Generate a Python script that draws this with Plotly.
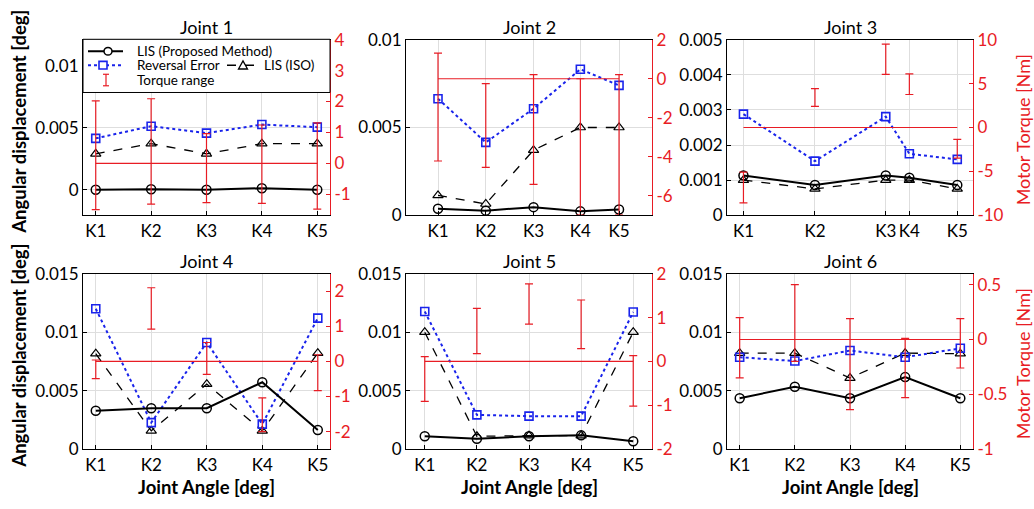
import plotly.graph_objects as go
import numpy as np

W, H = 1034, 509
FONT = "Lato"
RED = "rgb(232,28,36)"
BLUE = "rgb(25,35,235)"
GRID = "#dedede"

JOINTS = ["Joint 1", "Joint 2", "Joint 3", "Joint 4", "Joint 5", "Joint 6"]
K_LABELS = ["K1", "K2", "K3", "K4", "K5"]

# joint-angle axis positions of K1..K5 for each joint
ANGLE_POS = [
    [1, 2, 3, 4, 5],
    [1, 2, 3, 3.98, 4.79],
    [1, 2, 2.99, 3.32, 3.99],
    [1, 2, 3, 4, 5],
    [1, 2, 3, 4, 5],
    [1, 2, 3, 4, 5],
]

LIS_PROPOSED = [
    [0.0, 0.00005, 0.0, 0.00013, 0.0],
    [0.00037, 0.00026, 0.00046, 0.00022, 0.00033],
    [0.00113, 0.00086, 0.00113, 0.00107, 0.00086],
    [0.00329, 0.0035, 0.0035, 0.00572, 0.00164],
    [0.0011, 0.00088, 0.0011, 0.00118, 0.00068],
    [0.00435, 0.00534, 0.00435, 0.00616, 0.00435],
]
REVERSAL_ERROR = [
    [0.00415, 0.00513, 0.00457, 0.00526, 0.00505],
    [0.00664, 0.00415, 0.00607, 0.00832, 0.0074],
    [0.00288, 0.00154, 0.00281, 0.00175, 0.00159],
    [0.012, 0.00227, 0.00912, 0.00214, 0.0112],
    [0.01177, 0.00293, 0.00282, 0.00282, 0.01172],
    [0.00786, 0.00753, 0.00843, 0.00786, 0.00862],
]
LIS_ISO = [
    [0.0029, 0.00372, 0.0029, 0.00372, 0.00372],
    [0.00113, 0.00064, 0.00371, 0.005, 0.005],
    [0.001, 0.00075, 0.001, 0.001, 0.00075],
    [0.00816, 0.00156, 0.00556, 0.00156, 0.00821],
    [0.01, 0.0011, 0.00115, 0.00115, 0.01],
    [0.00821, 0.00821, 0.00608, 0.00821, 0.00816],
]
TORQUE_MEAN = [
    [0, 0, 0, 0, 0],
    [0, 0, 0, 0, 0],
    [0, 0, 0, 0, 0],
    [0, 0, 0, 0, 0],
    [0, 0, 0, 0, 0],
    [0, 0, 0, 0, 0],
]
TORQUE_LOW = [
    [-1.5, -1.32, -1.27, -1.3, -1.48],
    [-4.22, -4.55, -5.42, -7.0, -7.0],
    [-8.6, 2.4, 6.06, 3.76, -3.5],
    [-0.49, 0.92, -0.37, -2.0, -0.83],
    [-0.91, 0.18, 0.85, 0.29, -1.02],
    [-0.35, -0.2, -0.64, -0.53, -0.26],
]
TORQUE_HIGH = [
    [2.02, 2.09, 0.96, 1.24, 1.31],
    [1.31, -0.25, 0.21, 0.0, 0.21],
    [-5.1, 4.44, 9.5, 6.1, -1.36],
    [0.04, 2.1, 0.54, -1.04, 0.19],
    [0.11, 1.21, 1.77, 1.4, 0.13],
    [0.2, 0.5, 0.19, 0.01, 0.19],
]

X_RANGE = [[0.77, 5.23], [0.33, 5.48], [0.77, 4.21], [0.77, 5.22], [0.64, 5.36], [0.77, 5.23]]
LEFT_RANGE = [[-0.00205, 0.0121], [0, 0.01], [0, 0.005], [0, 0.015], [0, 0.015], [0, 0.015]]
LEFT_TICKS = [
    [0, 0.005, 0.01],
    [0, 0.005, 0.01],
    [0, 0.001, 0.002, 0.003, 0.004, 0.005],
    [0, 0.005, 0.01, 0.015],
    [0, 0.005, 0.01, 0.015],
    [0, 0.005, 0.01, 0.015],
]
RIGHT_RANGE = [[-1.68, 4], [-7, 2], [-10, 10], [-2.5, 2.5], [-2, 2], [-1, 0.6]]
RIGHT_TICKS = [
    [-1, 0, 1, 2, 3, 4],
    [-6, -4, -2, 0, 2],
    [-10, -5, 0, 5, 10],
    [-2, -1, 0, 1, 2],
    [-2, -1, 0, 1, 2],
    [-1, -0.5, 0, 0.5],
]

# layout (pixels)
COLS = [(83, 330), (406, 652), (727, 973)]
ROWS = [(30, 213), (274, 457)]
TICK_SIZE = 17


def px(x):
    return x / W


def py(y):
    return 1 - y / H


def fmt(v):
    return "%g" % v


fig = go.Figure()
layout = dict(
    width=W, height=H, autosize=False,
    margin=dict(l=0, r=0, t=0, b=0, pad=0),
    paper_bgcolor="white", plot_bgcolor="white",
    showlegend=False,
    font=dict(family=FONT, size=16, color="black"),
)
annotations = []
shapes = []

for i in range(6):
    r, c = divmod(i, 3)
    x0, x1 = COLS[c]
    y0, y1 = ROWS[r]
    xa, ya, yb = f"x{i+1}", f"y{i+1}", f"y{i+7}"
    xk = "xaxis" if i == 0 else f"xaxis{i+1}"
    yk = "yaxis" if i == 0 else f"yaxis{i+1}"
    ykr = f"yaxis{i+7}"
    layout[xk] = dict(
        domain=[px(x0), px(x1)], anchor=ya, range=X_RANGE[i],
        tickvals=ANGLE_POS[i], ticktext=K_LABELS,
        showline=True, mirror=True, linecolor="black", linewidth=1,
        ticks="inside", ticklen=4, tickcolor="black",
        showgrid=True, gridcolor=GRID, gridwidth=1, zeroline=False,
        tickfont=dict(size=TICK_SIZE, family=FONT, color="black"),
    )
    layout[yk] = dict(
        domain=[py(y1), py(y0)], anchor=xa, range=LEFT_RANGE[i],
        tickvals=LEFT_TICKS[i], ticktext=[fmt(v) for v in LEFT_TICKS[i]],
        showline=True, linecolor="black", linewidth=1,
        ticks="inside", ticklen=4, tickcolor="black",
        showgrid=True, gridcolor=GRID, gridwidth=1, zeroline=False,
        tickfont=dict(size=TICK_SIZE, family=FONT, color="black"),
    )
    layout[ykr] = dict(
        overlaying=ya, side="right", anchor=xa, range=RIGHT_RANGE[i],
        tickvals=RIGHT_TICKS[i], ticktext=[fmt(v) for v in RIGHT_TICKS[i]],
        showline=True, linecolor=RED, linewidth=1,
        ticks="inside", ticklen=4, tickcolor=RED,
        showgrid=False, zeroline=False,
        tickfont=dict(size=TICK_SIZE, family=FONT, color=RED),
    )

    xs = ANGLE_POS[i]
    fig.add_trace(go.Scatter(
        x=xs, y=LIS_ISO[i], xaxis=xa, yaxis=ya, mode="lines+markers",
        line=dict(color="black", width=1.3, dash="dash"),
        marker=dict(symbol="triangle-up-open", size=9, color="black", line=dict(width=1.2)),
    ))
    fig.add_trace(go.Scatter(
        x=xs, y=REVERSAL_ERROR[i], xaxis=xa, yaxis=ya, mode="lines+markers",
        line=dict(color=BLUE, width=2, dash="dot"),
        marker=dict(symbol="square-open", size=8, color=BLUE, line=dict(width=1.6)),
    ))
    fig.add_trace(go.Scatter(
        x=xs, y=LIS_PROPOSED[i], xaxis=xa, yaxis=ya, mode="lines+markers",
        line=dict(color="black", width=2),
        marker=dict(symbol="circle-open", size=9, color="black", line=dict(width=1.5)),
    ))
    # torque range (right axis)
    lo = np.array(TORQUE_LOW[i], dtype=float)
    hi = np.array(TORQUE_HIGH[i], dtype=float)
    fig.add_trace(go.Scatter(
        x=xs, y=TORQUE_MEAN[i], xaxis=xa, yaxis=yb, mode="lines",
        line=dict(color=RED, width=1.2),
    ))
    fig.add_trace(go.Scatter(
        x=xs, y=(lo + hi) / 2, xaxis=xa, yaxis=yb, mode="markers",
        marker=dict(size=1, color="rgba(0,0,0,0)"),
        error_y=dict(type="data", array=(hi - lo) / 2, symmetric=True,
                     color=RED, thickness=1.2, width=4),
    ))

    # subplot title
    annotations.append(dict(
        x=px((x0 + x1) / 2), y=py(y0 - 13), xref="paper", yref="paper",
        text=JOINTS[i], showarrow=False, xanchor="center", yanchor="middle",
        font=dict(size=18, family=FONT, color="black"),
    ))
    if r == 1:
        annotations.append(dict(
            x=px((x0 + x1) / 2), y=py(496), xref="paper", yref="paper",
            text="<b>Joint Angle [deg]</b>", showarrow=False,
            xanchor="center", yanchor="middle",
            font=dict(size=18.5, family=FONT, color="black"),
        ))
    if c == 0:
        annotations.append(dict(
            x=px(19), y=py((y0 + y1) / 2 - 6), xref="paper", yref="paper",
            text="<b>Angular displacement [deg]</b>", showarrow=False, textangle=-90,
            xanchor="center", yanchor="middle",
            font=dict(size=18.5, family=FONT, color="black"),
        ))
    if c == 2:
        annotations.append(dict(
            x=px(1023), y=py((y0 + y1) / 2 + 3), xref="paper", yref="paper",
            text="Motor Torque [Nm]", showarrow=False, textangle=-90,
            xanchor="center", yanchor="middle",
            font=dict(size=18, family=FONT, color=RED),
        ))

# legend box (inside Joint 1)
LX0, LX1, LY0, LY1 = 83, 330, 29.5, 85
shapes.append(dict(type="rect", xref="paper", yref="paper",
                   x0=px(LX0), x1=px(LX1), y0=py(LY1), y1=py(LY0),
                   fillcolor="white", line=dict(color="black", width=1), layer="above"))
R1, R2, R3 = 42, 56.5, 72
# row 1: LIS (Proposed Method)
shapes.append(dict(type="line", xref="paper", yref="paper", x0=px(88), x1=px(123),
                   y0=py(R1), y1=py(R1), line=dict(color="black", width=2)))
shapes.append(dict(type="circle", xref="paper", yref="paper", x0=px(104), x1=px(112),
                   y0=py(R1 + 4), y1=py(R1 - 4), fillcolor="white", line=dict(color="black", width=1.5)))
# row 2: Reversal Error
shapes.append(dict(type="line", xref="paper", yref="paper", x0=px(88), x1=px(123),
                   y0=py(R2), y1=py(R2), line=dict(color=BLUE, width=2, dash="dot")))
shapes.append(dict(type="rect", xref="paper", yref="paper", x0=px(99), x1=px(107),
                   y0=py(R2 + 4), y1=py(R2 - 4), fillcolor="white", line=dict(color=BLUE, width=1.6)))
# row 2b: LIS (ISO)
shapes.append(dict(type="line", xref="paper", yref="paper", x0=px(227), x1=px(257),
                   y0=py(R2), y1=py(R2), line=dict(color="black", width=1.5, dash="dash")))
tri = "M {a},{b} L {c},{d} L {e},{f} Z".format(
    a=px(238.5), b=py(R2 + 4), c=px(247.5), d=py(R2 + 4), e=px(243), f=py(R2 - 4.5))
shapes.append(dict(type="path", xref="paper", yref="paper", path=tri,
                   fillcolor="white", line=dict(color="black", width=1.3)))
# row 3: Torque range
shapes.append(dict(type="line", xref="paper", yref="paper", x0=px(106), x1=px(106),
                   y0=py(R3 + 6), y1=py(R3 - 6), line=dict(color=RED, width=1.2)))
for yy in (R3 + 6, R3 - 6):
    shapes.append(dict(type="line", xref="paper", yref="paper", x0=px(103), x1=px(109),
                       y0=py(yy), y1=py(yy), line=dict(color=RED, width=1.2)))

for txt, xx, yy in [("LIS (Proposed Method)", 135, R1), ("Reversal Error", 135, R2),
                    ("LIS (ISO)", 262, R2), ("Torque range", 135, R3)]:
    annotations.append(dict(
        x=px(xx), y=py(yy), xref="paper", yref="paper", text=txt, showarrow=False,
        xanchor="left", yanchor="middle", font=dict(size=13.5, family=FONT, color="black"),
    ))

layout["annotations"] = annotations
layout["shapes"] = shapes
fig.update_layout(**layout)
fig.write_html("out.html")
